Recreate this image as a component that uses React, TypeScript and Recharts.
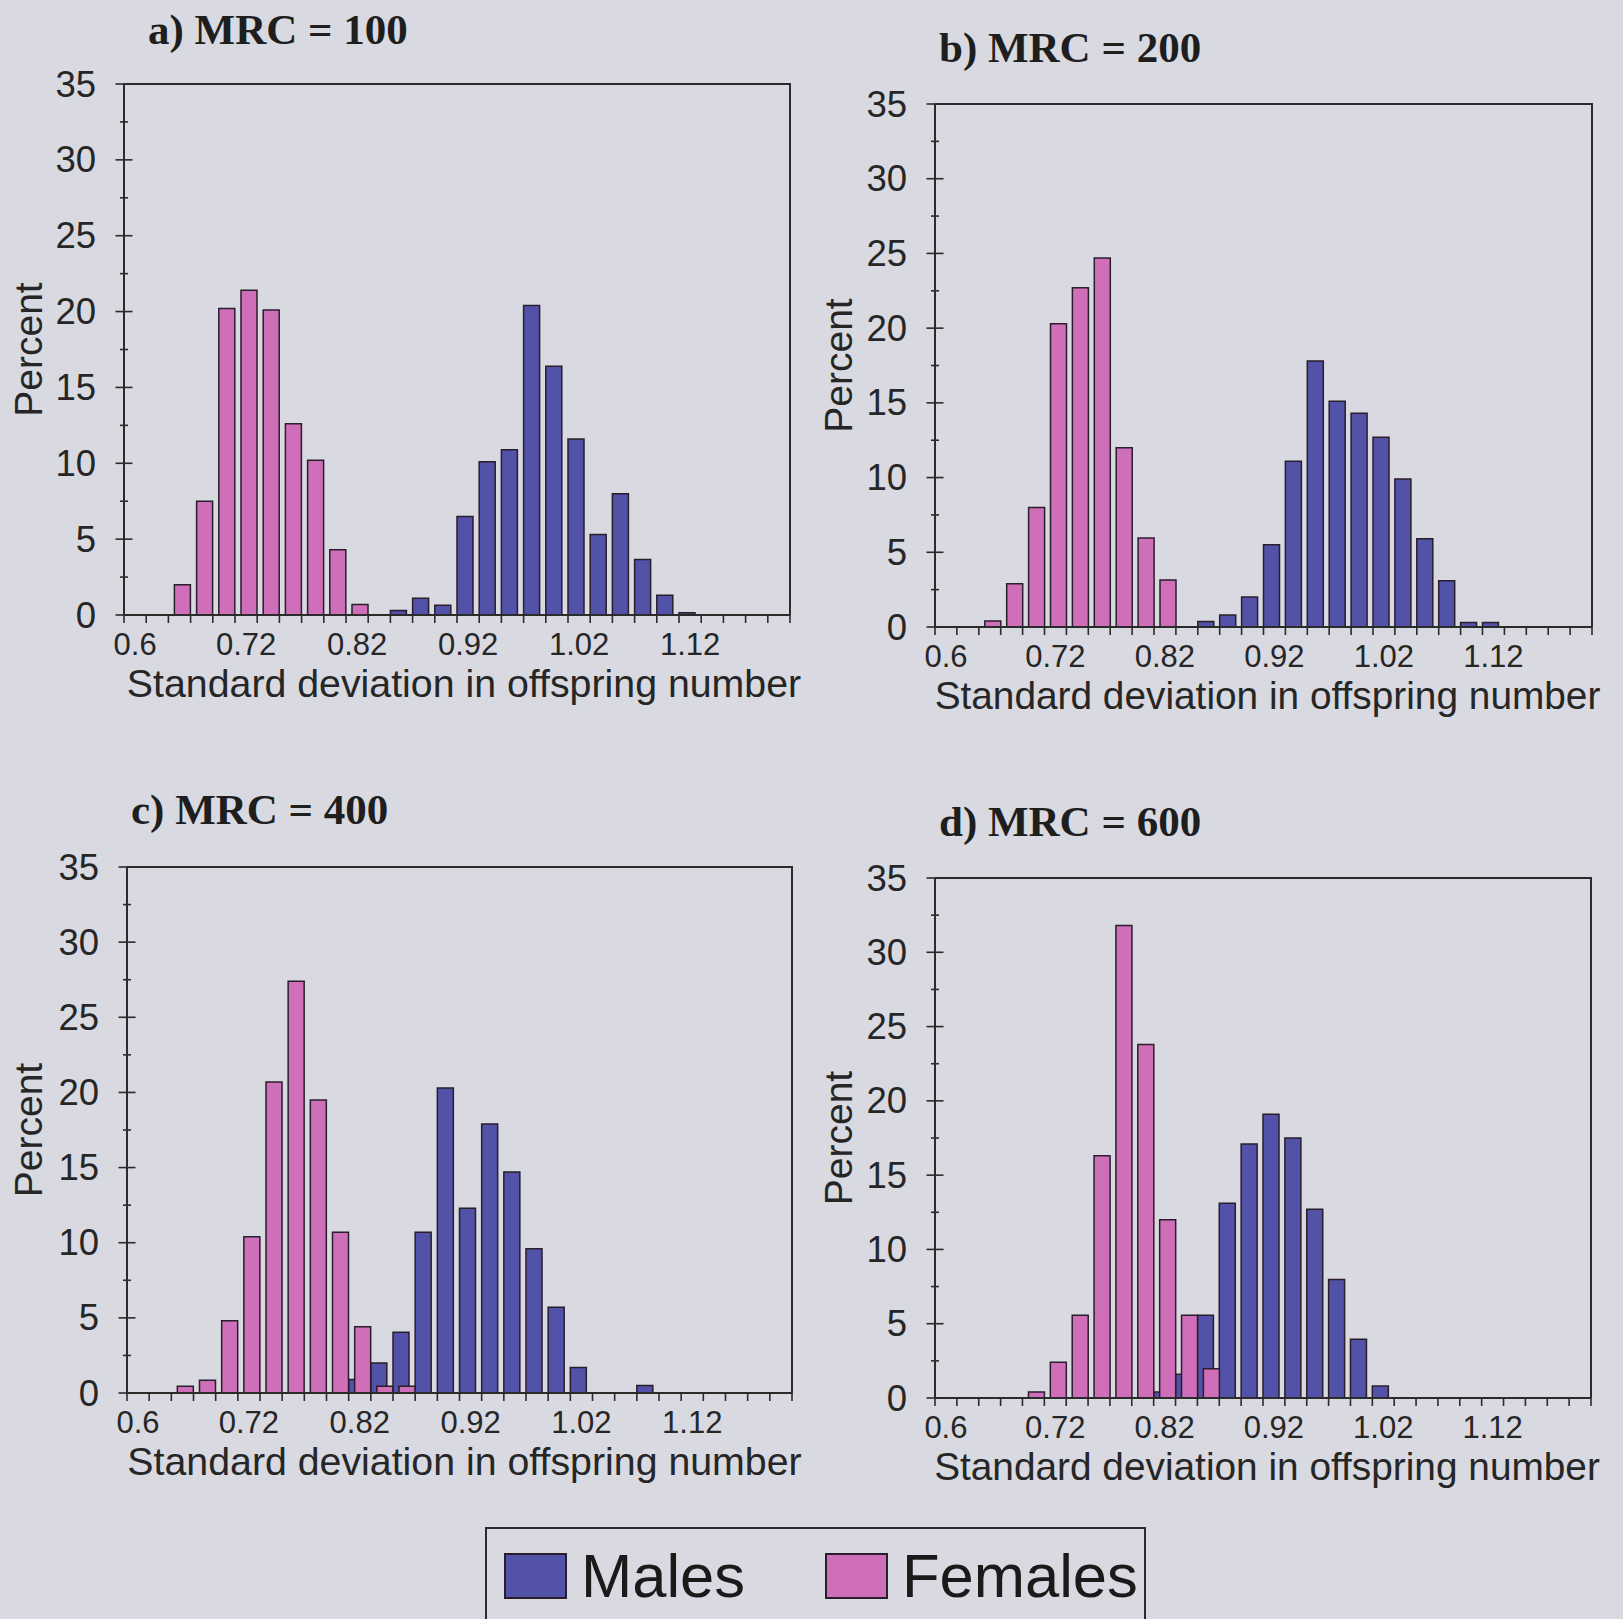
import React from 'react';
import { BarChart, Bar, XAxis, YAxis } from 'recharts';

// ---------- data ----------
const CATEGORIES = [
  '0.6', '0.64', '0.66', '0.68', '0.7', '0.72', '0.74', '0.76', '0.78', '0.8',
  '0.82', '0.84', '0.86', '0.88', '0.9', '0.92', '0.94', '0.96', '0.98', '1',
  '1.02', '1.04', '1.06', '1.08', '1.1', '1.12', '1.14', '1.16', '1.18', '1.2',
];
const Y_TICKS = [0, 2.5, 5, 7.5, 10, 12.5, 15, 17.5, 20, 22.5, 25, 27.5, 30, 32.5, 35];

const FEMALES_A = [0, 0, 2.0, 7.5, 20.2, 21.4, 20.1, 12.6, 10.2, 4.3, 0.7, 0, 0, 0, 0, 0, 0, 0, 0, 0, 0, 0, 0, 0, 0, 0, 0, 0, 0, 0];
const MALES_A = [0, 0, 0, 0, 0, 0, 0, 0, 0, 0, 0, 0, 0.3, 1.1, 0.65, 6.5, 10.1, 10.9, 20.4, 16.4, 11.6, 5.3, 8.0, 3.65, 1.3, 0.15, 0, 0, 0, 0];

const FEMALES_B = [0, 0, 0.4, 2.9, 8.0, 20.3, 22.7, 24.7, 12.0, 5.95, 3.15, 0, 0, 0, 0, 0, 0, 0, 0, 0, 0, 0, 0, 0, 0, 0, 0, 0, 0, 0];
const MALES_B = [0, 0, 0, 0, 0, 0, 0, 0, 0, 0, 0, 0, 0.36, 0.8, 2.0, 5.5, 11.1, 17.8, 15.1, 14.3, 12.7, 9.9, 5.9, 3.1, 0.3, 0.3, 0, 0, 0, 0];

const FEMALES_C = [0, 0, 0.45, 0.85, 4.8, 10.4, 20.7, 27.4, 19.5, 10.7, 4.4, 0.45, 0.45, 0, 0, 0, 0, 0, 0, 0, 0, 0, 0, 0, 0, 0, 0, 0, 0, 0];
const MALES_C = [0, 0, 0, 0, 0, 0, 0, 0, 0, 0, 0.9, 2.0, 4.05, 10.7, 20.3, 12.3, 17.9, 14.7, 9.6, 5.7, 1.7, 0, 0, 0.5, 0, 0, 0, 0, 0, 0];

const FEMALES_D = [0, 0, 0, 0, 0.4, 2.4, 5.57, 16.3, 31.8, 23.8, 12.0, 5.57, 1.97, 0, 0, 0, 0, 0, 0, 0, 0, 0, 0, 0, 0, 0, 0, 0, 0, 0];
const MALES_D = [0, 0, 0, 0, 0, 0, 0, 0, 0, 0, 0.4, 1.6, 5.57, 13.1, 17.1, 19.1, 17.5, 12.7, 7.97, 3.95, 0.8, 0, 0, 0, 0, 0, 0, 0, 0, 0];

const TITLES = ['a) MRC = 100', 'b) MRC = 200', 'c) MRC = 400', 'd) MRC = 600'];
const X_TITLE = 'Standard deviation in offspring number';
const Y_TITLE = 'Percent';
const LEGEND = ['Males', 'Females'];

// ---------- style ----------
const BG = '#d8d9e1';
const BLUE = '#5152a8';
const PINK = '#cf6fba';
const OUTLINE = '#2a1e2a';
const AXIS = '#2b2b2b';
const TEXT = '#262626';
const SANS = '"Liberation Sans", Arial, sans-serif';
const SERIF = '"Liberation Serif", "Times New Roman", serif';

const YW = 124;
const MT = 30;
const MR = 30;
const XH = 100;

const PANELS = [
  { title: TITLES[0], males: MALES_A, females: FEMALES_A, plot: { L: 124, T: 84, B: 615, R: 790 }, titleX: 148, titleY: 29, percentX: 28, xTitleDx: 7, xTitleSize: 39.3 },
  { title: TITLES[1], males: MALES_B, females: FEMALES_B, plot: { L: 935, T: 104, B: 627, R: 1592 }, titleX: 939, titleY: 47, percentX: 838, xTitleDx: 4, xTitleSize: 38.8 },
  { title: TITLES[2], males: MALES_C, females: FEMALES_C, plot: { L: 127, T: 867, B: 1393, R: 792 }, titleX: 131, titleY: 809, percentX: 28, xTitleDx: 5, xTitleSize: 39.3 },
  { title: TITLES[3], males: MALES_D, females: FEMALES_D, plot: { L: 935, T: 878, B: 1398, R: 1591 }, titleX: 939, titleY: 821, percentX: 838, xTitleDx: 4, xTitleSize: 38.8 },
];

const XTick = (props: any) => {
  const { x, y, index, payload, plotW } = props;
  const band = plotW / CATEGORIES.length;
  const left = x - band / 2;
  return (
    <g>
      <line x1={left} y1={y - 1} x2={left} y2={y + 8} stroke={AXIS} strokeWidth={1.6} />
      {index === CATEGORIES.length - 1 && (
        <line x1={x + band / 2} y1={y - 1} x2={x + band / 2} y2={y + 8} stroke={AXIS} strokeWidth={1.6} />
      )}
      {index % 5 === 0 && (
        <text x={x} y={y + 29} textAnchor="middle" dominantBaseline="central" fontSize={31} fill={TEXT} fontFamily={SANS}>
          {payload.value}
        </text>
      )}
    </g>
  );
};

const YTick = (props: any) => {
  const { x, y, payload } = props;
  const major = payload.value % 5 === 0;
  const half = major ? 8.5 : 4;
  return (
    <g>
      <line x1={x - half} y1={y} x2={x + half} y2={y} stroke={AXIS} strokeWidth={1.6} />
      {major && (
        <text x={x - 28} y={y} textAnchor="end" dominantBaseline="central" fontSize={36.5} fill={TEXT} fontFamily={SANS}>
          {payload.value}
        </text>
      )}
    </g>
  );
};

function Panel({ cfg }: { cfg: any }) {
  const { L, T, B, R } = cfg.plot;
  const plotW = R - L;
  const plotH = B - T;
  const width = YW + plotW + MR;
  const height = MT + plotH + XH;
  const data = CATEGORIES.map((cat, i) => ({ cat, males: cfg.males[i], females: cfg.females[i] }));
  const chartLeft = L - YW;
  return (
    <>
      <div
        style={{
          position: 'absolute',
          left: cfg.titleX,
          top: cfg.titleY - 21.5,
          fontFamily: SERIF,
          fontWeight: 'bold',
          fontSize: 43,
          lineHeight: '43px',
          color: '#1e1e1e',
          whiteSpace: 'nowrap',
        }}
      >
        {cfg.title}
      </div>
      <div style={{ position: 'absolute', left: chartLeft, top: T - MT }}>
        <BarChart
          width={width}
          height={height}
          data={data}
          margin={{ top: MT, right: MR, left: 0, bottom: 0 }}
          barCategoryGap={0}
          barGap={-10}
        >
          <XAxis
            dataKey="cat"
            interval={0}
            height={XH}
            tickSize={0}
            tickMargin={0}
            tickLine={false}
            axisLine={{ stroke: AXIS, strokeWidth: 2 }}
            tick={(p: any) => <XTick {...p} plotW={plotW} />}
            label={{
              value: X_TITLE,
              position: 'insideTop',
              offset: 54,
              dx: cfg.xTitleDx,
              fontSize: cfg.xTitleSize,
              fill: TEXT,
              fontFamily: SANS,
            }}
          />
          <YAxis
            type="number"
            domain={[0, 35]}
            ticks={Y_TICKS}
            interval={0}
            width={YW}
            tickSize={0}
            tickMargin={0}
            tickLine={false}
            allowDataOverflow
            axisLine={{ stroke: AXIS, strokeWidth: 2 }}
            tick={(p: any) => <YTick {...p} />}
            label={{
              value: Y_TITLE,
              angle: -90,
              position: 'insideLeft',
              offset: cfg.percentX - chartLeft,
              fontSize: 39,
              fill: TEXT,
              fontFamily: SANS,
              style: { textAnchor: 'middle' },
            }}
          />
          <Bar dataKey="males" fill={BLUE} stroke={OUTLINE} strokeWidth={1.5} isAnimationActive={false} />
          <Bar dataKey="females" fill={PINK} stroke={OUTLINE} strokeWidth={1.5} isAnimationActive={false} />
        </BarChart>
      </div>
      {/* plot frame: top and right edges */}
      <div
        style={{
          position: 'absolute',
          left: L,
          top: T - 1,
          width: plotW + 1,
          height: plotH + 1,
          boxSizing: 'border-box',
          borderTop: `2px solid ${AXIS}`,
          borderRight: `2px solid ${AXIS}`,
          pointerEvents: 'none',
        }}
      />
    </>
  );
}

function Legend() {
  const swatch = (color: string, left: number) => (
    <div
      style={{
        position: 'absolute',
        left,
        top: 1553,
        width: 63,
        height: 46,
        boxSizing: 'border-box',
        background: color,
        border: `2px solid ${OUTLINE}`,
      }}
    />
  );
  const label = (text: string, left: number) => (
    <div
      style={{
        position: 'absolute',
        left,
        top: 1576 - 31,
        fontFamily: SANS,
        fontSize: 61.5,
        lineHeight: '62px',
        color: '#1a1a1a',
        whiteSpace: 'nowrap',
      }}
    >
      {text}
    </div>
  );
  return (
    <>
      <div
        style={{
          position: 'absolute',
          left: 485,
          top: 1527,
          width: 661,
          height: 120,
          boxSizing: 'border-box',
          border: `2px solid ${AXIS}`,
        }}
      />
      {swatch(BLUE, 504)}
      {label(LEGEND[0], 581)}
      {swatch(PINK, 825)}
      {label(LEGEND[1], 902)}
    </>
  );
}

export default function App() {
  return (
    <div
      style={{
        position: 'absolute',
        left: 0,
        top: 0,
        width: 1623,
        height: 1619,
        overflow: 'hidden',
        background: BG,
      }}
    >
      {PANELS.map((cfg) => (
        <Panel key={cfg.title} cfg={cfg} />
      ))}
      <Legend />
    </div>
  );
}
